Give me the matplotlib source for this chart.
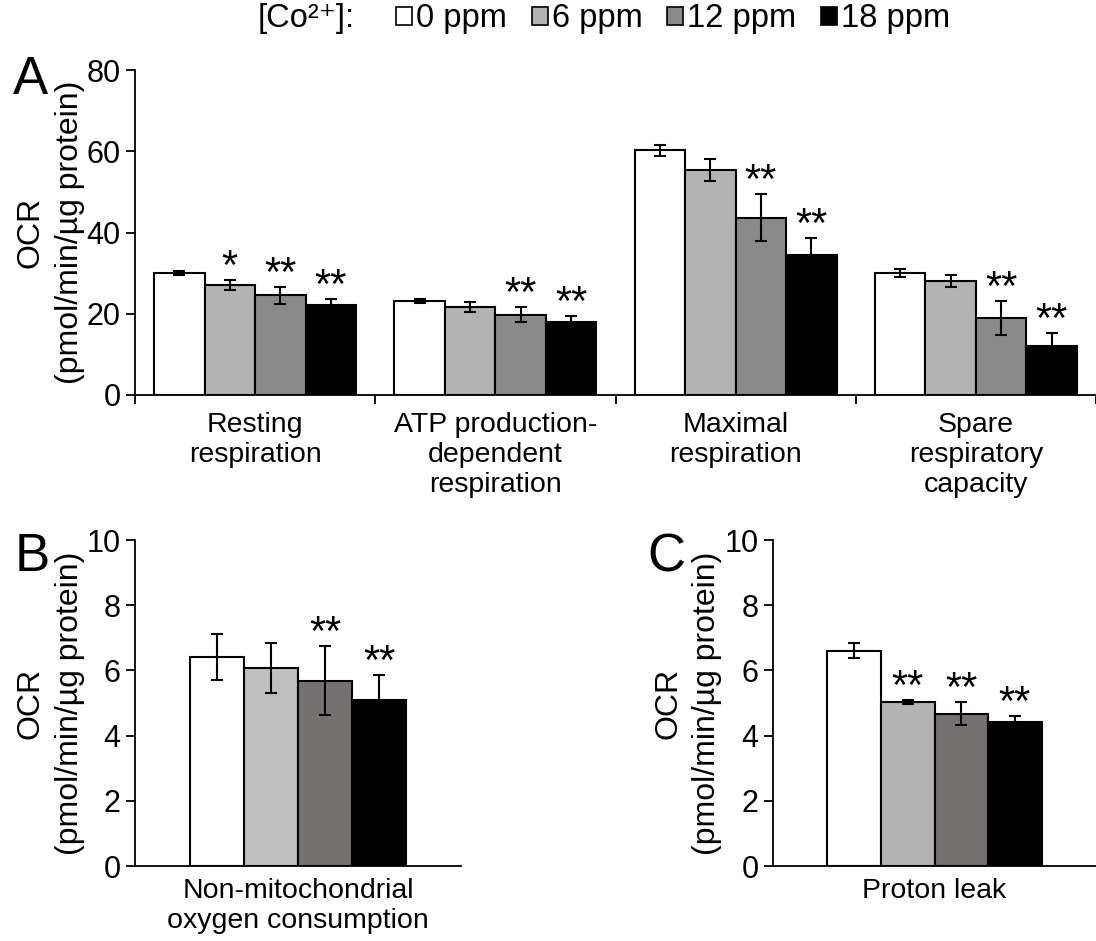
import matplotlib
matplotlib.use("Agg")
import matplotlib.pyplot as plt
from matplotlib.patches import Patch
import numpy as np

plt.rcParams['font.family'] = ['Liberation Sans', 'DejaVu Sans']

# ---------------- data ----------------
concentrations = ["0 ppm", "6 ppm", "12 ppm", "18 ppm"]
categories_A = ["Resting\nrespiration", "ATP production-\ndependent\nrespiration",
                "Maximal\nrespiration", "Spare\nrespiratory\ncapacity"]
means_A_0 = [30.0, 23.1, 60.2, 30.1]
means_A_6 = [27.0, 21.7, 55.3, 28.1]
means_A_12 = [24.5, 19.8, 43.6, 18.9]
means_A_18 = [22.2, 18.0, 34.4, 12.1]
err_A_0 = [0.5, 0.5, 1.3, 1.0]
err_A_6 = [1.2, 1.2, 2.7, 1.5]
err_A_12 = [2.1, 1.9, 5.8, 4.2]
err_A_18 = [1.5, 1.4, 4.3, 3.2]
sig_A_0 = ["", "", "", ""]
sig_A_6 = ["*", "", "", ""]
sig_A_12 = ["**", "**", "**", "**"]
sig_A_18 = ["**", "**", "**", "**"]

category_B = "Non-mitochondrial\noxygen consumption"
means_B = [6.42, 6.07, 5.69, 5.10]
err_B = [0.70, 0.76, 1.06, 0.77]
sig_B = ["", "", "**", "**"]

category_C = "Proton leak"
means_C = [6.61, 5.02, 4.67, 4.43]
err_C = [0.23, 0.06, 0.36, 0.18]
sig_C = ["", "**", "**", "**"]

colors_A = ["#ffffff", "#b3b3b3", "#8a8a8a", "#000000"]
colors_B = ["#ffffff", "#bfbfbf", "#767171", "#000000"]
colors_C = ["#ffffff", "#b3b3b3", "#767171", "#000000"]

ylabel_1 = "OCR"
ylabel_2 = "(pmol/min/\u00b5g protein)"
legend_title = "[Co\u00b2\u207a]:"

FS = 20.5
TFS = 22
YFS = 23

fig = plt.figure(figsize=(10.96, 9.41), dpi=100)
W, H = 1096.0, 941.0


def fx(px):
    return px / W


def fy(py):
    return 1 - py / H


axA = fig.add_axes([fx(135), fy(395), fx(1096) - fx(135), fy(70) - fy(395)])
axB = fig.add_axes([fx(135), fy(866), fx(461) - fx(135), fy(540) - fy(866)])
axC = fig.add_axes([fx(773), fy(866), fx(1096) - fx(773), fy(540) - fy(866)])


def style(ax):
    for s in ["top", "right"]:
        ax.spines[s].set_visible(False)
    for s in ["left", "bottom"]:
        ax.spines[s].set_linewidth(1.3)
    ax.tick_params(axis='y', direction='out', length=6.5, width=1.3,
                   labelsize=TFS, pad=4)


def draw_sig(ax, x, top, s):
    if s:
        ax.annotate(s, xy=(x, top), xytext=(0, 0.7), textcoords='offset points',
                    ha='center', va='baseline', fontsize=30)


def put_ylabel(ax, x1_px, x2_px):
    left_px = ax.get_position().x0 * W
    w_px = ax.get_position().width * W
    ax.text((x1_px - left_px) / w_px, 0.5, ylabel_1, transform=ax.transAxes,
            rotation=90, ha='center', va='center', fontsize=YFS)
    ax.text((x2_px - left_px) / w_px, 0.5, ylabel_2, transform=ax.transAxes,
            rotation=90, ha='center', va='center', fontsize=YFS)


# ---------------- panel A ----------------
means_A = [means_A_0, means_A_6, means_A_12, means_A_18]
errs_A = [err_A_0, err_A_6, err_A_12, err_A_18]
sigs_A = [sig_A_0, sig_A_6, sig_A_12, sig_A_18]
xA = np.arange(len(categories_A))
bwA = 0.21
for i in range(4):
    pos = xA + (i - 1.5) * bwA
    axA.bar(pos, means_A[i], width=bwA, color=colors_A[i], edgecolor='black',
            linewidth=1.5, zorder=2)
    axA.errorbar(pos, means_A[i], yerr=errs_A[i], fmt='none', ecolor='black',
                 elinewidth=1.5, capsize=4.5, capthick=1.5, zorder=3)
    for p, m, e, s in zip(pos, means_A[i], errs_A[i], sigs_A[i]):
        draw_sig(axA, p, m + e, s)
axA.set_xlim(-0.5, 3.5)
axA.set_ylim(0, 80)
axA.set_yticks([0, 20, 40, 60, 80])
style(axA)
axA.set_xticks(xA)
axA.set_xticklabels(categories_A, fontsize=FS, linespacing=1.2)
axA.tick_params(axis='x', which='major', length=0, pad=12)
axA.set_xticks(np.arange(-0.5, 3.6, 1.0), minor=True)
axA.tick_params(axis='x', which='minor', direction='out', length=6.5, width=1.3)
put_ylabel(axA, 31, 70)


# ---------------- panels B and C ----------------
def single(ax, means, errs, sigs, colors, label, x1, x2):
    bw = 0.166
    pos = (np.arange(4) - 1.5) * bw
    ax.bar(pos, means, width=bw, color=colors, edgecolor='black', linewidth=1.5, zorder=2)
    ax.errorbar(pos, means, yerr=errs, fmt='none', ecolor='black', elinewidth=1.5,
                capsize=4.5, capthick=1.5, zorder=3)
    for p, m, e, s in zip(pos, means, errs, sigs):
        draw_sig(ax, p, m + e, s)
    ax.set_xlim(-0.5, 0.5)
    ax.set_ylim(0, 10)
    ax.set_yticks([0, 2, 4, 6, 8, 10])
    style(ax)
    ax.set_xticks([0])
    ax.set_xticklabels([label], fontsize=FS, linespacing=1.2)
    ax.tick_params(axis='x', length=0, pad=9)
    put_ylabel(ax, x1, x2)


single(axB, means_B, err_B, sig_B, colors_B, category_B, 31, 70)
single(axC, means_C, err_C, sig_C, colors_C, category_C, 668, 707)

# panel letters
fig.text(fx(13), fy(94), "A", fontsize=38, ha='left', va='baseline')
fig.text(fx(15), fy(571), "B", fontsize=38, ha='left', va='baseline')
fig.text(fx(647), fy(571), "C", fontsize=38, ha='left', va='baseline')

# legend
LFS = 23.5
fig.text(fx(258), fy(19), legend_title, fontsize=LFS, ha='left', va='center')
handles = [Patch(facecolor=c, edgecolor='black', linewidth=1.2) for c in colors_A]
fig.legend(handles, concentrations, loc='center left', bbox_to_anchor=(fx(396), fy(19)),
           ncol=4, frameon=False, fontsize=LFS, handlelength=0.5, handleheight=0.5,
           handletextpad=0.12, columnspacing=0.75, borderpad=0, borderaxespad=0)

fig.savefig("out.png", dpi=100)
